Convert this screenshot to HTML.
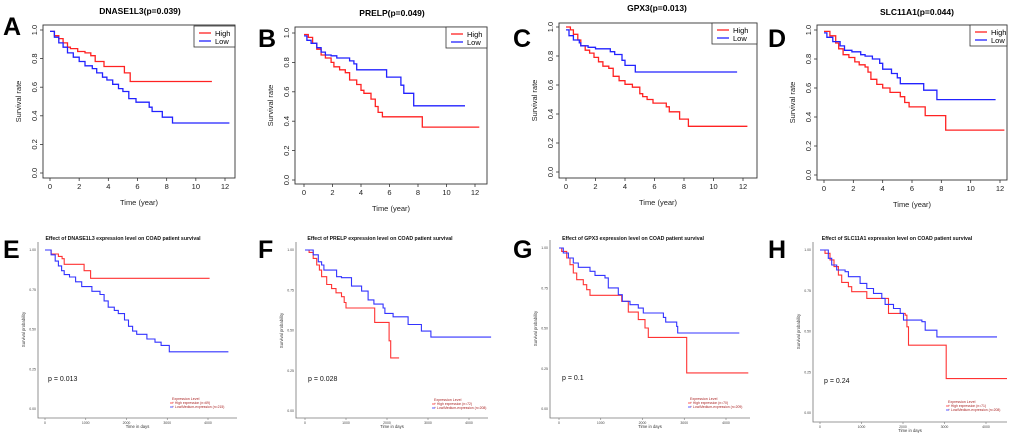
<!DOCTYPE html>
<html><head><meta charset="utf-8">
<style>
html,body{margin:0;padding:0;background:#fff;}
svg{display:block;font-family:"Liberation Sans",Arial,sans-serif;}
</style></head>
<body>
<svg id="fig" width="1020" height="435" viewBox="0 0 1020 435" xmlns="http://www.w3.org/2000/svg"></svg>
<script>
// ---------- DATA (time, survival) ----------
const topTicksX=[0,2,4,6,8,10,12];
const topTicksY=[0.0,0.2,0.4,0.6,0.8,1.0];
const botTicksX=[0,1000,2000,3000,4000];
const botTicksY=[0.00,0.25,0.50,0.75,1.00];
const topTitles=["DNASE1L3(p=0.039)","PRELP(p=0.049)","GPX3(p=0.013)","SLC11A1(p=0.044)"];
const botGenes=["DNASE1L3","PRELP","GPX3","SLC11A1"];
const botPvals=["p = 0.013","p = 0.028","p = 0.1","p = 0.24"];
const botHighN=["n=69","n=72","n=70","n=71"];
const botLowN=["n=215","n=208","n=209","n=208"];

const A_high_t=[0,0.3,0.6,0.9,1.2,1.4,1.9,2.4,2.8,3.1,3.7,5.1,5.5,11.1];
const A_high_s=[0.99,0.96,0.94,0.91,0.88,0.87,0.85,0.84,0.82,0.78,0.745,0.70,0.64,0.64];
const A_low_t=[0,0.3,0.6,0.9,1.2,1.6,2.0,2.4,2.9,3.2,3.6,3.9,4.3,4.7,5.0,5.4,5.9,6.8,7.0,7.7,8.4,12.3];
const A_low_s=[0.99,0.95,0.91,0.88,0.84,0.81,0.78,0.75,0.73,0.70,0.67,0.65,0.62,0.59,0.57,0.52,0.495,0.46,0.43,0.39,0.35,0.35];
const B_high_t=[0,0.3,0.6,0.9,1.2,1.5,1.9,2.1,2.5,2.9,3.2,3.7,4.0,4.2,4.7,5.0,5.2,5.5,8.3,12.3];
const B_high_s=[0.99,0.97,0.93,0.89,0.85,0.83,0.80,0.77,0.75,0.73,0.68,0.65,0.61,0.59,0.55,0.50,0.46,0.43,0.36,0.36];
const B_low_t=[0,0.2,0.5,0.9,1.2,1.5,1.9,2.3,3.2,3.5,3.7,5.8,6.8,7.0,7.7,11.3];
const B_low_s=[0.98,0.95,0.93,0.90,0.87,0.85,0.845,0.83,0.81,0.79,0.75,0.70,0.645,0.59,0.505,0.505];
const C_high_t=[0,0.3,0.5,0.8,1.0,1.3,1.6,1.9,2.2,2.5,2.9,3.2,3.6,4.0,4.5,5.0,5.2,5.5,5.9,6.8,7.0,7.7,8.3,12.3];
const C_high_s=[1.0,0.98,0.95,0.91,0.87,0.84,0.82,0.79,0.76,0.73,0.715,0.66,0.63,0.605,0.585,0.54,0.52,0.50,0.475,0.45,0.415,0.365,0.315,0.315];
const C_low_t=[0,0.2,0.5,0.9,1.0,1.5,2.0,3.0,3.3,3.8,4.0,4.7,11.6];
const C_low_s=[0.98,0.94,0.91,0.89,0.87,0.86,0.85,0.83,0.81,0.77,0.735,0.69,0.69];
const D_high_t=[0,0.4,0.8,1.0,1.3,1.7,2.1,2.4,2.8,3.0,3.2,3.6,4.0,4.5,5.2,5.5,5.8,6.9,8.3,12.3];
const D_high_s=[0.99,0.96,0.91,0.87,0.83,0.81,0.78,0.76,0.745,0.71,0.66,0.625,0.60,0.57,0.54,0.50,0.47,0.41,0.31,0.31];
const D_low_t=[0,0.2,0.6,1.1,1.4,1.9,2.5,2.8,3.3,3.8,4.0,4.6,5.0,5.2,6.8,7.7,11.7];
const D_low_s=[0.98,0.95,0.92,0.89,0.86,0.85,0.83,0.82,0.80,0.77,0.73,0.70,0.67,0.63,0.585,0.52,0.52];

const E_high_t=[0,150,330,420,470,960,1120,4040];
const E_high_s=[1.0,0.975,0.96,0.945,0.91,0.87,0.822,0.822];
const E_low_t=[0,150,250,330,408,470,600,750,900,1150,1350,1450,1550,1700,1800,1950,2050,2150,2250,2500,2700,2850,3050,4500];
const E_low_s=[1.0,0.97,0.93,0.90,0.87,0.845,0.83,0.80,0.77,0.74,0.72,0.68,0.64,0.62,0.60,0.56,0.52,0.49,0.47,0.44,0.42,0.40,0.36,0.36];
const F_high_t=[0,100,200,285,350,405,530,650,755,890,955,1000,1700,2050,2090,2295];
const F_high_s=[1.0,0.985,0.948,0.907,0.875,0.834,0.786,0.76,0.734,0.71,0.674,0.64,0.55,0.436,0.33,0.33];
const F_low_t=[0,200,325,405,460,770,890,1135,1380,1540,1680,1905,1950,2150,2515,2840,3070,4540];
const F_low_s=[1.0,0.97,0.927,0.907,0.875,0.834,0.828,0.776,0.745,0.69,0.664,0.64,0.606,0.585,0.537,0.496,0.459,0.459];
const G_high_t=[0,64,184,263,343,423,583,663,743,1501,1661,1900,2060,2140,3058,4535];
const G_high_s=[1.0,0.979,0.938,0.896,0.845,0.803,0.772,0.741,0.706,0.669,0.602,0.555,0.503,0.445,0.224,0.224];
const G_low_t=[0,104,224,343,463,743,862,1102,1182,1421,1517,1700,1900,2020,2500,2555,2818,2842,4319];
const G_low_s=[1.0,0.969,0.938,0.907,0.88,0.855,0.83,0.814,0.752,0.71,0.669,0.648,0.627,0.596,0.569,0.54,0.513,0.472,0.472];
const H_high_t=[0,120,241,338,443,523,684,765,1127,1650,2052,2093,2133,3042,4507];
const H_high_s=[1.0,0.98,0.939,0.898,0.846,0.801,0.775,0.744,0.703,0.611,0.60,0.529,0.416,0.211,0.211];
const H_low_t=[0,201,282,402,604,684,966,1127,1288,1489,1569,1771,1932,2012,2455,2535,2817,4266];
const H_low_s=[1.0,0.949,0.908,0.877,0.867,0.836,0.795,0.764,0.734,0.703,0.666,0.641,0.611,0.57,0.56,0.508,0.467,0.467];

const topSeries=[[A_high_t,A_high_s,A_low_t,A_low_s],[B_high_t,B_high_s,B_low_t,B_low_s],[C_high_t,C_high_s,C_low_t,C_low_s],[D_high_t,D_high_s,D_low_t,D_low_s]];
const botSeries=[[E_high_t,E_high_s,E_low_t,E_low_s],[F_high_t,F_high_s,F_low_t,F_low_s],[G_high_t,G_high_s,G_low_t,G_low_s],[H_high_t,H_high_s,H_low_t,H_low_s]];

// ---------- LAYOUT ----------
const topGeo=[
 {L:"A",lx:3,ly:35,bx1:43,bx2:235,by1:25,by2:178,x0:50,x12:225,y1:30,y0:173,tc:140,ty:14,lgx:194,lgy:26},
 {L:"B",lx:258,ly:47,bx1:295,bx2:487,by1:27,by2:184,x0:304,x12:475,y1:33,y0:180,tc:392,ty:16,lgx:446,lgy:27},
 {L:"C",lx:513,ly:47,bx1:559,bx2:757,by1:23,by2:178,x0:566,x12:743,y1:27,y0:172,tc:657,ty:11,lgx:712,lgy:23},
 {L:"D",lx:768,ly:47,bx1:817,bx2:1007,by1:25,by2:180,x0:824,x12:1000,y1:30,y0:175,tc:917,ty:15,lgx:970,lgy:25}
];
const botGeo=[
 {L:"E",lx:3,ly:258,ax:38,ay:418,ax2:237,x0:45,x4:208,y1:250,y0:409,tc:123,ty:240,px:48,py:381,lgx:172,lgy:400},
 {L:"F",lx:258,ly:258,ax:296,ay:418,ax2:488,x0:305,x4:469,y1:250,y0:411,tc:380,ty:240,px:308,py:381,lgx:434,lgy:401},
 {L:"G",lx:513,ly:258,ax:550,ay:418,ax2:750,x0:559,x4:726,y1:248,y0:409,tc:633,ty:240,px:562,py:380,lgx:690,lgy:400},
 {L:"H",lx:768,ly:258,ax:813,ay:422,ax2:1007,x0:820,x4:986,y1:250,y0:413,tc:897,ty:240,px:824,py:383,lgx:948,lgy:403}
];

const svg=document.getElementById('fig');
const NS="http://www.w3.org/2000/svg";
function mk(tag,attrs,parent,text){
  const e=document.createElementNS(NS,tag);
  for(const k in attrs)e.setAttribute(k,attrs[k]);
  if(text!==undefined)e.textContent=text;
  (parent||svg).appendChild(e);return e;
}
function stepPath(ts,ss,fx,fy){
  let d="M"+fx(ts[0]).toFixed(1)+","+fy(ss[0]).toFixed(1);
  for(let i=1;i<ts.length;i++){d+=" H"+fx(ts[i]).toFixed(1)+" V"+fy(ss[i]).toFixed(1);}
  return d;
}

topGeo.forEach((g,i)=>{
  const grp=mk('g',{});
  
  
  const fx=t=>g.x0+(g.x12-g.x0)*t/12, fy=v=>g.y0-(g.y0-g.y1)*v;
  const lt=mk('text',{x:g.lx,y:g.ly,'font-size':25,'font-weight':'bold',fill:'#000'},grp,g.L);
  
  
  const tt=mk('text',{x:g.tc,y:g.ty,'font-size':8.5,'font-weight':'bold','text-anchor':'middle'},grp,topTitles[i]);
  
  
  const box=mk('rect',{x:g.bx1,y:g.by1,width:g.bx2-g.bx1,height:g.by2-g.by1,fill:'none',stroke:'#333','stroke-width':0.9},grp);
  
  
  topTicksX.forEach(t=>{
    mk('line',{x1:fx(t),x2:fx(t),y1:g.by2,y2:g.by2+3,stroke:'#333','stroke-width':0.8},grp);
    const l=mk('text',{x:fx(t),y:g.by2+11,'font-size':7.5,'text-anchor':'middle',fill:'#222'},grp,String(t));
    
    
  });
  topTicksY.forEach(v=>{
    mk('line',{x1:g.bx1-3,x2:g.bx1,y1:fy(v),y2:fy(v),stroke:'#333','stroke-width':0.8},grp);
    const x=g.bx1-6,y=fy(v);
    const l=mk('text',{x:x,y:y,'font-size':7.5,'text-anchor':'middle',fill:'#222',transform:`rotate(-90 ${x} ${y})`},grp,v.toFixed(1));
    
    
  });
  const xl=mk('text',{x:(g.bx1+g.bx2)/2,y:g.by2+27,'font-size':7.5,'text-anchor':'middle',fill:'#222'},grp,'Time (year)');
  
  
  const yx=g.bx1-22,yy=(g.by1+g.by2)/2;
  const yl=mk('text',{x:yx,y:yy,'font-size':7.5,'text-anchor':'middle',fill:'#222',transform:`rotate(-90 ${yx} ${yy})`},grp,'Survival rate');
  
  
  const s=topSeries[i];
  const ph=mk('path',{d:stepPath(s[0],s[1],fx,fy),fill:'none',stroke:'#f22','stroke-width':1.3},grp);
  
  
  const pl=mk('path',{d:stepPath(s[2],s[3],fx,fy),fill:'none',stroke:'#22f','stroke-width':1.3},grp);
  
  
  const lg=mk('g',{},grp);
  
  
  mk('rect',{x:g.lgx,y:g.lgy,width:g.bx2-g.lgx,height:21,fill:'#fff',stroke:'#333','stroke-width':0.8},lg);
  mk('line',{x1:g.lgx+5,x2:g.lgx+17,y1:g.lgy+7,y2:g.lgy+7,stroke:'#f22','stroke-width':1.3},lg);
  mk('line',{x1:g.lgx+5,x2:g.lgx+17,y1:g.lgy+15,y2:g.lgy+15,stroke:'#22f','stroke-width':1.3},lg);
  mk('text',{x:g.lgx+21,y:g.lgy+10,'font-size':7.5},lg,'High');
  mk('text',{x:g.lgx+21,y:g.lgy+18,'font-size':7.5},lg,'Low');
});

botGeo.forEach((g,i)=>{
  const grp=mk('g',{});
  
  
  const fx=t=>g.x0+(g.x4-g.x0)*t/4000, fy=v=>g.y0-(g.y0-g.y1)*v;
  const lt=mk('text',{x:g.lx,y:g.ly,'font-size':25,'font-weight':'bold',fill:'#000'},grp,g.L);
  
  
  const tt=mk('text',{x:g.tc,y:g.ty,'font-size':5.2,'font-weight':'bold','text-anchor':'middle',fill:'#111'},grp,'Effect of '+botGenes[i]+' expression level on COAD patient survival');
  
  
  mk('path',{d:`M${g.ax},${g.y1-8} V${g.ay} H${g.ax2}`,fill:'none',stroke:'#777','stroke-width':0.8},grp);
  botTicksX.forEach(t=>{
    mk('line',{x1:fx(t),x2:fx(t),y1:g.ay,y2:g.ay+2,stroke:'#777','stroke-width':0.6},grp);
    const l=mk('text',{x:fx(t),y:g.ay+6,'font-size':3.5,'text-anchor':'middle',fill:'#444'},grp,String(t));
    
    
  });
  botTicksY.forEach(v=>{
    const l=mk('text',{x:g.ax-2,y:fy(v)+1.2,'font-size':3.5,'text-anchor':'end',fill:'#444'},grp,v.toFixed(2));
    
    
  });
  const xl=mk('text',{x:(g.ax+g.ax2)/2,y:g.ay+10,'font-size':4.2,'text-anchor':'middle',fill:'#333'},grp,'Time in days');
  
  
  const yx=g.ax-13,yy=(g.y1+g.y0)/2;
  const yl=mk('text',{x:yx,y:yy,'font-size':4.2,'text-anchor':'middle',fill:'#333',transform:`rotate(-90 ${yx} ${yy})`},grp,'Survival probability');
  
  
  const s=botSeries[i];
  const ph=mk('path',{d:stepPath(s[0],s[1],fx,fy),fill:'none',stroke:'#f33','stroke-width':1.1},grp);
  
  
  const pl=mk('path',{d:stepPath(s[2],s[3],fx,fy),fill:'none',stroke:'#33f','stroke-width':1.1},grp);
  
  
  const pt=mk('text',{x:g.px,y:g.py,'font-size':7,fill:'#111'},grp,botPvals[i]);
  
  
  const lg=mk('g',{},grp);
  
  
  mk('text',{x:g.lgx,y:g.lgy,'font-size':3.6,fill:'#a22'},lg,'Expression Level');
  mk('text',{x:g.lgx,y:g.lgy+4,'font-size':3.4,fill:'#a22'},lg,'+ High expression ('+botHighN[i]+')');
  mk('text',{x:g.lgx,y:g.lgy+8,'font-size':3.4,fill:'#a22'},lg,'+ Low/Medium-expression ('+botLowN[i]+')');
  mk('line',{x1:g.lgx-2,x2:g.lgx+1,y1:g.lgy+3,y2:g.lgy+3,stroke:'#f33','stroke-width':0.8},lg);
  mk('line',{x1:g.lgx-2,x2:g.lgx+1,y1:g.lgy+7,y2:g.lgy+7,stroke:'#33f','stroke-width':0.8},lg);
});
</script>
</body></html>
